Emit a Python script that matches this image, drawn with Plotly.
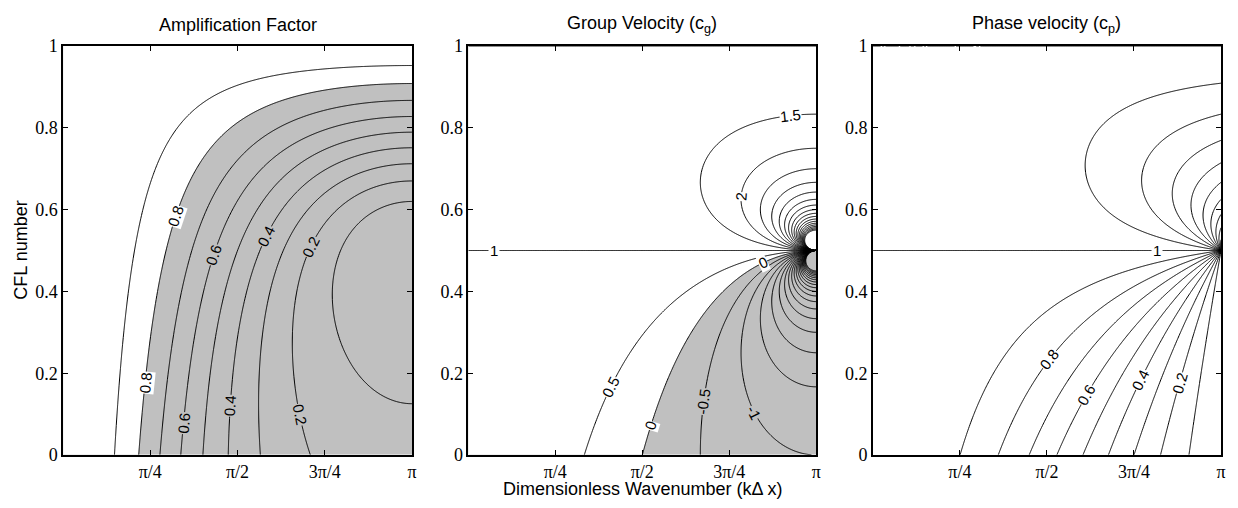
import numpy as np
import plotly.graph_objects as go

# ---------------- data ----------------
# first-order upwind scheme analysed over CFL number and dimensionless wavenumber
cfl = np.linspace(0.0005, 1.0, 400)          # CFL number axis
wavenumber = np.linspace(0.001, np.pi, 500)  # k*dx axis

amp_levels_labeled = [0.2, 0.4, 0.6, 0.8]
amp_levels_plain = [0.1, 0.3, 0.5, 0.7, 0.9]
amp_shade_level = 0.8

cg_levels_labeled = [-1.0, -0.5, 0.0, 0.5, 1.0, 1.5, 2.0]
cg_levels_plain_low = [-10.0, -1.5]   # start, end (step 0.5)
cg_levels_plain_high = [2.5, 10.0]    # start, end (step 0.5)
cg_shade_level = 0.0

cp_levels_labeled = [0.2, 0.4, 0.6, 0.8, 1.0]
cp_levels_plain_low = [0.1, 0.9]      # start, end (step 0.2)
cp_levels_plain_high = [1.1, 1.9]     # start, end (step 0.1)

x_tickvals = [np.pi / 4, np.pi / 2, 3 * np.pi / 4, np.pi]
x_ticktext = ["\u03c0/4", "\u03c0/2", "3\u03c0/4", "\u03c0"]
y_tickvals = [0, 0.2, 0.4, 0.6, 0.8, 1.0]
y_ticktext = ["0", "0.2", "0.4", "0.6", "0.8", "1"]

titles = ["Amplification Factor", "Group Velocity (c<sub>g</sub>)", "Phase velocity (c<sub>p</sub>)"]
xlabel = "Dimensionless Wavenumber (k\u0394 x)"
ylabel = "CFL number"

# contour label placement: (level, CFL value along which the label sits)
amp_label_spots = [(0.8, 0.585), (0.6, 0.49), (0.4, 0.534), (0.2, 0.51),
                   (0.8, 0.176), (0.6, 0.078), (0.4, 0.12), (0.2, 0.098)]
cg_label_spots = [(2.0, 0.632), (0.5, 0.167), (0.0, 0.071), (0.0, 0.47),
                  (-0.5, 0.13), (-1.0, 0.105)]
cg_label_col = [(1.5, 0.927 * np.pi, 0.7, 1.0)]     # level, wavenumber, CFL search range
cg_label_flat = [(1.0, 0.0736 * np.pi)]             # level on the CFL=0.5 line, wavenumber
cp_label_spots = [(0.8, 0.233), (0.6, 0.147), (0.4, 0.184), (0.2, 0.176)]
cp_label_flat = [(1.0, 0.817 * np.pi)]


# ---------------- fields (upwind dispersion relation) ----------------
def f_amp(th, c):
    g2 = 1 - 2 * c * (1 - c) * (1 - np.cos(th))
    return g2 ** (1 / (2 * c))


def f_cg(th, c):
    g2 = 1 - 2 * c * (1 - c) * (1 - np.cos(th))
    return ((1 - c) * np.cos(th) + c) / g2


def f_cp(th, c):
    return np.arctan2(c * np.sin(th), 1 - c + c * np.cos(th)) / (c * th)


TH, C = np.meshgrid(wavenumber, cfl)
amp = f_amp(TH, C)
cg = f_cg(TH, C)
cp = f_cp(TH, C)

GRAY = "#c0c0c0"
SANS = "Liberation Sans, Arial, sans-serif"
SERIF = "Liberation Serif, Times New Roman, serif"

W = 1161.0
H = 409.0
domains = [[0, 350 / W], [406.3 / W, 755.3 / W], [812 / W, 1.0]]
SX = 349.0 / np.pi   # px per radian
SY = H               # px per CFL unit

fig = go.Figure()


def add_fill(z, level, xa, ya):
    fig.add_trace(go.Contour(
        x=wavenumber, y=cfl, z=z, xaxis=xa, yaxis=ya,
        autocontour=False,
        contours=dict(start=level, end=level, size=1, coloring="fill", showlines=False),
        colorscale=[[0, GRAY], [0.5, GRAY], [0.5, "white"], [1, "white"]],
        line=dict(width=0), showscale=False, hoverinfo="skip"))


def add_lines(z, start, end, size, xa, ya):
    fig.add_trace(go.Contour(
        x=wavenumber, y=cfl, z=z, xaxis=xa, yaxis=ya,
        autocontour=False,
        contours=dict(start=start, end=end, size=size, coloring="none", showlabels=False),
        line=dict(color="black", width=1),
        showscale=False, hoverinfo="skip"))


annots = []


def tangent_angle(f, th, c):
    e = 1e-5
    fth = (f(th + e, c) - f(th - e, c)) / (2 * e)
    fc = (f(th, c + e) - f(th, c - e)) / (2 * e)
    ang = np.degrees(np.arctan2(SY * fth, SX * fc))
    while ang > 90:
        ang -= 180
    while ang <= -90:
        ang += 180
    return float(ang)


def label(f, level, th, c, xa, ya, bg):
    annots.append(dict(text=f"{level:g}", x=th, y=c, xref=xa, yref=ya,
                       showarrow=False, textangle=tangent_angle(f, th, c),
                       font=dict(family=SANS, size=15, color="black"),
                       bgcolor=bg, borderpad=0, xanchor="center", yanchor="middle"))


def label_on_row(f, level, c, xa, ya, bg):
    ths = np.linspace(0.001, np.pi, 20000)
    v = f(ths, c) - level
    idx = np.where(np.sign(v[:-1]) != np.sign(v[1:]))[0]
    if len(idx) == 0:
        return
    i = idx[0]
    th = ths[i] - v[i] * (ths[i + 1] - ths[i]) / (v[i + 1] - v[i])
    label(f, level, th, c, xa, ya, bg)


def label_on_col(f, level, th, c_lo, c_hi, xa, ya, bg):
    cs = np.linspace(c_hi, c_lo, 20000)
    v = f(th, cs) - level
    idx = np.where(np.sign(v[:-1]) != np.sign(v[1:]))[0]
    if len(idx) == 0:
        return
    i = idx[0]
    c = cs[i] - v[i] * (cs[i + 1] - cs[i]) / (v[i + 1] - v[i])
    label(f, level, th, c, xa, ya, bg)


# panel 1: amplification factor
add_fill(amp, amp_shade_level, "x", "y")
add_lines(amp, amp_levels_plain[0], amp_levels_plain[-1], 0.2, "x", "y")
add_lines(amp, amp_levels_labeled[0], amp_levels_labeled[-1], 0.2, "x", "y")
for lev, c in amp_label_spots:
    label_on_row(f_amp, lev, c, "x", "y", GRAY if lev < amp_shade_level else "white")

# panel 2: group velocity
add_fill(cg, cg_shade_level, "x2", "y2")
add_lines(cg, cg_levels_plain_low[0], cg_levels_plain_low[1], 0.5, "x2", "y2")
add_lines(cg, cg_levels_plain_high[0], cg_levels_plain_high[1], 0.5, "x2", "y2")
add_lines(cg, cg_levels_labeled[0], cg_levels_labeled[-1], 0.5, "x2", "y2")
for lev, c in cg_label_spots:
    label_on_row(f_cg, lev, c, "x2", "y2", GRAY if lev < cg_shade_level else "white")
for lev, th, lo, hi in cg_label_col:
    label_on_col(f_cg, lev, th, lo, hi, "x2", "y2", "white")
for lev, th in cg_label_flat:
    annots.append(dict(text=f"{lev:g}", x=th, y=0.5, xref="x2", yref="y2", showarrow=False,
                       font=dict(family=SANS, size=15, color="black"), bgcolor="white",
                       borderpad=1, xanchor="center", yanchor="middle"))

# panel 3: phase velocity
add_lines(cp, cp_levels_plain_low[0], cp_levels_plain_low[1], 0.2, "x3", "y3")
add_lines(cp, cp_levels_plain_high[0], cp_levels_plain_high[1], 0.1, "x3", "y3")
add_lines(cp, cp_levels_labeled[0], cp_levels_labeled[-1], 0.2, "x3", "y3")
for lev, c in cp_label_spots:
    label_on_row(f_cp, lev, c, "x3", "y3", "white")
for lev, th in cp_label_flat:
    annots.append(dict(text=f"{lev:g}", x=th, y=0.5, xref="x3", yref="y3", showarrow=False,
                       font=dict(family=SANS, size=15, color="black"), bgcolor="white",
                       borderpad=1, xanchor="center", yanchor="middle"))

axis_common = dict(showline=True, linecolor="black", linewidth=1.5, mirror="ticks",
                   ticks="inside", ticklen=5, tickcolor="black", showgrid=False,
                   zeroline=False, tickfont=dict(family=SERIF, size=18, color="black"))

layout = dict(width=1238, height=508, margin=dict(l=63, r=14, t=46, b=53),
              plot_bgcolor="white", paper_bgcolor="white", showlegend=False)
for i in range(3):
    sx = "" if i == 0 else str(i + 1)
    layout["xaxis" + sx] = dict(axis_common, domain=domains[i], range=[0, np.pi],
                                tickvals=x_tickvals, ticktext=x_ticktext,
                                anchor="y" + sx)
    layout["yaxis" + sx] = dict(axis_common, domain=[0, 1], range=[0, 1],
                                tickvals=y_tickvals, ticktext=y_ticktext,
                                anchor="x" + sx)
fig.update_layout(**layout)

for i, t in enumerate(titles):
    annots.append(dict(text=t, x=(domains[i][0] + domains[i][1]) / 2, y=1.052,
                       xref="paper", yref="paper", showarrow=False,
                       xanchor="center", yanchor="middle",
                       font=dict(family=SANS, size=18, color="black")))
annots.append(dict(text=xlabel, x=(domains[1][0] + domains[1][1]) / 2, y=-0.084,
                   xref="paper", yref="paper", showarrow=False,
                   xanchor="center", yanchor="middle",
                   font=dict(family=SANS, size=18, color="black")))
annots.append(dict(text=ylabel, x=-0.037, y=0.5, textangle=-90,
                   xref="paper", yref="paper", showarrow=False,
                   xanchor="center", yanchor="middle",
                   font=dict(family=SANS, size=18, color="black")))
fig.update_layout(annotations=annots)

fig.write_html("out.html")
